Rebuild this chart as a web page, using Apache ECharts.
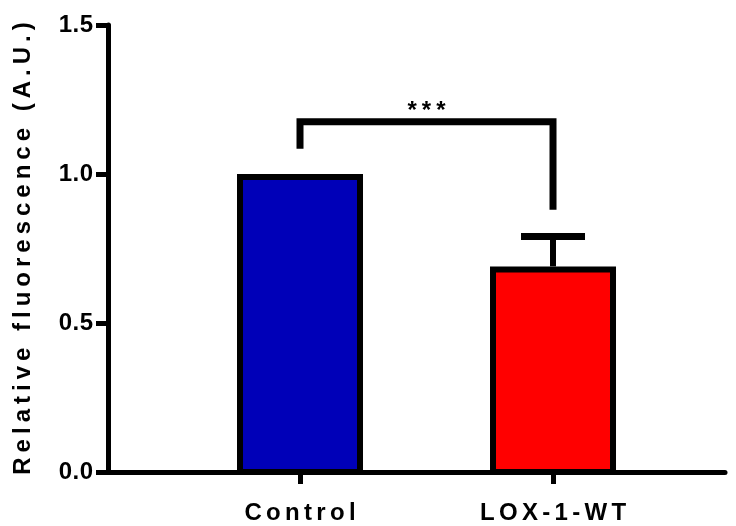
<!DOCTYPE html>
<html>
<head>
<meta charset="utf-8">
<script src="https://cdn.jsdelivr.net/npm/echarts@6/dist/echarts.min.js"></script>
<style>html,body{margin:0;padding:0;background:#fff}#c{width:736px;height:526px}</style>
</head>
<body>
<div id="c"></div>
<script>
var categories = ['Control', 'LOX-1-WT'];
var means = [1.0, 0.69];
var upperErrors = [0, 0.79];
var barColors = ['#0000B8', '#FF0000'];
var bracket = { left: 1.085, top: 1.175, right: 0.88, label: '***' };
var yName = 'Relative fluorescence (A.U.)';

function spaced(str, s, e) {
  var out = '';
  for (var i = 0; i < str.length; i++) {
    out += '{' + (i === str.length - 1 ? e : s) + '|' + str[i] + '}';
  }
  return out;
}
var FONT = 'Liberation Sans, Arial, sans-serif';
function richStyles(size, gap) {
  return {
    s: { fontFamily: FONT, fontWeight: 'bold', fontSize: size, color: '#000', padding: [0, gap, 0, 0] },
    e: { fontFamily: FONT, fontWeight: 'bold', fontSize: size, color: '#000' }
  };
}

var chart = echarts.init(document.getElementById('c'));
var option = {
  backgroundColor: '#fff',
  animation: false,
  grid: { left: 108, right: 11, top: 25, bottom: 54, containLabel: false, outerBoundsMode: 'none' },
  xAxis: {
    type: 'value',
    min: 0.2411, max: 2.6798,
    splitLine: { show: false },
    axisLine: { show: true, lineStyle: { color: '#000', width: 5 } },
    axisTick: { show: true, length: 12, lineStyle: { color: '#000', width: 5 }, customValues: [1, 2] },
    axisLabel: {
      margin: 29,
      customValues: [1, 2],
      formatter: function (v) { return spaced(categories[Math.round(v) - 1], 's', 'e'); },
      rich: richStyles(24, 4.3)
    }
  },
  yAxis: {
    type: 'value',
    min: 0, max: 1.5, interval: 0.5,
    splitLine: { show: false },
    axisLine: { show: true, lineStyle: { color: '#000', width: 5 } },
    axisTick: { show: true, length: 12, lineStyle: { color: '#000', width: 5 } },
    axisLabel: {
      margin: 15,
      formatter: function (v) { return spaced(v.toFixed(1), 's', 'e'); },
      rich: richStyles(24, 0.5)
    },
    name: spaced(yName, 's', 'e'),
    nameLocation: 'middle',
    nameRotate: 90,
    nameGap: 73,
    nameTextStyle: { rich: richStyles(24, 5.0) }
  },
  series: [
    {
      type: 'custom',
      z: 2,
      data: means.map(function (m, i) { return [i + 1, m, i]; }),
      renderItem: function (params, api) {
        var top = api.coord([api.value(0), api.value(1)]);
        var base = api.coord([api.value(0), 0]);
        var outer = 126, bw = 6;
        return {
          type: 'rect',
          shape: { x: top[0] - outer / 2 + bw / 2, y: top[1] + bw / 2, width: outer - bw, height: base[1] - top[1] - bw / 2 },
          style: { fill: barColors[api.value(2)], stroke: '#000', lineWidth: bw }
        };
      }
    },
    {
      type: 'custom',
      z: 3,
      data: means.map(function (m, i) { return [i + 1, m, upperErrors[i]]; }).filter(function (d) { return d[2] > d[1]; }),
      renderItem: function (params, api) {
        var base = api.coord([api.value(0), api.value(1)]);
        var top = api.coord([api.value(0), api.value(2)]);
        var half = 32;
        return {
          type: 'group',
          children: [
            { type: 'line', shape: { x1: base[0], y1: base[1], x2: top[0], y2: top[1] }, style: { stroke: '#000', lineWidth: 6 } },
            { type: 'line', shape: { x1: top[0] - half, y1: top[1], x2: top[0] + half, y2: top[1] }, style: { stroke: '#000', lineWidth: 7 } }
          ]
        };
      }
    },
    {
      type: 'custom',
      z: 3,
      data: [[1, 2, bracket.left, bracket.top, bracket.right]],
      renderItem: function (params, api) {
        var pl = api.coord([api.value(0), api.value(2)]);
        var pt = api.coord([api.value(0), api.value(3)]);
        var pr = api.coord([api.value(1), api.value(4)]);
        var prt = api.coord([api.value(1), api.value(3)]);
        return {
          type: 'group',
          children: [
            { type: 'polyline', shape: { points: [pl, pt, prt, pr] }, style: { stroke: '#000', lineWidth: 7, fill: null, lineJoin: 'miter', lineCap: 'butt' } },
            { type: 'text', x: (pt[0] + prt[0]) / 2, y: pt[1] + 2, style: { text: spaced(bracket.label, 's', 'e'), rich: richStyles(24, 5), align: 'center', verticalAlign: 'bottom' } }
          ]
        };
      }
    }
  ]
};
chart.setOption(option);
</script>
</body>
</html>
